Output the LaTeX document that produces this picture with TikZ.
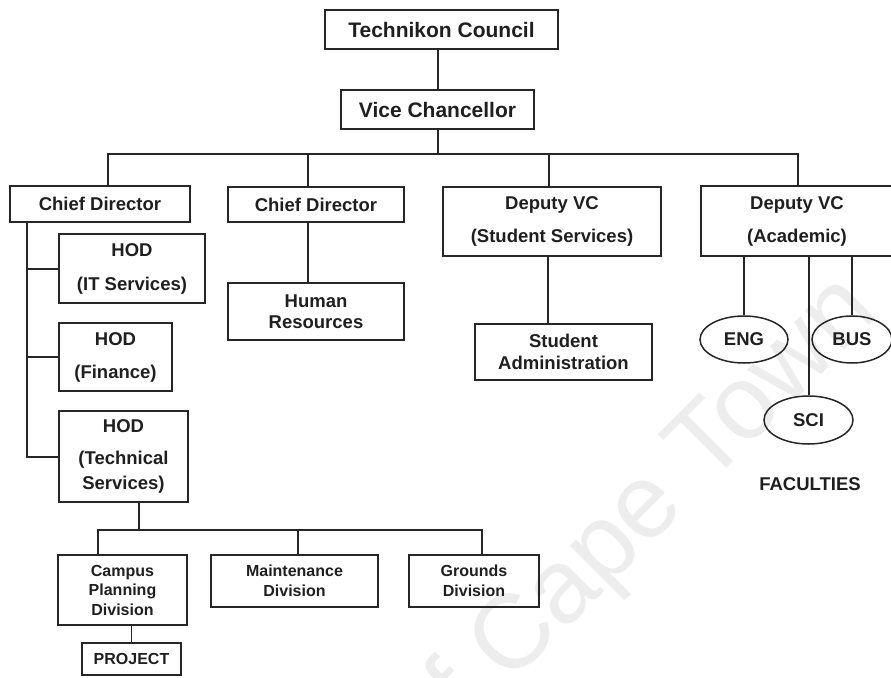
\documentclass[tikz,border=0pt]{standalone}
\usepackage{fontspec}
\setmainfont{Liberation Sans}
\usetikzlibrary{shapes.geometric}
\begin{document}
\begin{tikzpicture}[x=1pt,y=-1pt,
  box/.style={draw=black!85, line width=1.8pt, rectangle, inner sep=0pt,
    align=center, text=black!88, font=\bfseries\fontsize{18.5}{21}\selectfont},
  topbox/.style={box, font=\bfseries\fontsize{21}{25}\selectfont},
  smallbox/.style={box, line width=1.4pt, font=\bfseries\fontsize{16}{19.5}\selectfont},
  fac/.style={draw=black!85, line width=1.5pt, ellipse, inner sep=0pt,
    text=black!88, font=\bfseries\fontsize{18.5}{21}\selectfont},
  facname/.style={text=black!88, font=\bfseries\fontsize{18.5}{21}\selectfont},
  link/.style={draw=black!85, line width=2pt},
  thinlink/.style={draw=black!85, line width=1.5pt},
  stamp/.style={text=black!7, font=\fontsize{105}{105}\selectfont}]
\useasboundingbox (0,0) rectangle (891,677);

% faint watermark behind the chart
\node[stamp, rotate=45] (wm) at (635,522) {of Cape Town};

% governance
\node[topbox, minimum width=233pt, minimum height=39pt] (council) at (441.5,29.5) {Technikon Council};
\node[topbox, minimum width=193pt, minimum height=39pt] (vc) at (437.5,109.5) {Vice Chancellor};

% second level
\node[box, minimum width=180pt, minimum height=36pt] (cdA) at (100,204) {Chief Director};
\node[box, minimum width=176pt, minimum height=35pt] (cdB) at (316,204.5) {Chief Director};
\node[box, minimum width=218pt, minimum height=69pt] (dvcS) at (552,221.5) {Deputy VC\\[12pt](Student Services)};
\node[box, minimum width=192pt, minimum height=70pt] (dvcA) at (797,221) {Deputy VC\\[12pt](Academic)};

% heads of department
\node[box, minimum width=146pt, minimum height=69pt] (hodIT) at (132,268.5) {HOD\\[13pt](IT Services)};
\node[box, minimum width=113pt, minimum height=68pt] (hodFin) at (115.5,357) {HOD\\[12pt](Finance)};
\node[box, minimum width=129pt, minimum height=91pt] (hodTech) at (123.5,456.5) {HOD\\[11pt](Technical\\[4pt]Services)};
\node[box, minimum width=176pt, minimum height=57pt] (hr) at (316,311.5) {Human\\Resources};
\node[box, minimum width=177pt, minimum height=56pt] (sa) at (563.5,352) {Student\\[1pt]Administration};

% faculties
\node[fac, minimum width=88pt, minimum height=47pt] (eng) at (744,339.5) {ENG};
\node[fac, minimum width=80pt, minimum height=47pt] (bus) at (852,339.5) {BUS};
\node[fac, minimum width=89pt, minimum height=48pt] (sci) at (808.5,420) {SCI};
\node[facname] (faculties) at (810,484) {FACULTIES};

% technical services divisions
\node[smallbox, minimum width=129pt, minimum height=70pt] (campus) at (122.5,590) {Campus\\Planning\\Division};
\node[smallbox, minimum width=167pt, minimum height=52pt] (maint) at (294.5,581) {Maintenance\\Division};
\node[smallbox, minimum width=130pt, minimum height=52pt] (grounds) at (474,581) {Grounds\\Division};
\node[smallbox, minimum width=99pt, minimum height=32pt] (project) at (131.5,659) {PROJECT};

% junction points
\coordinate (dA) at (108,154);
\coordinate (dB) at (308,154);
\coordinate (dS) at (549,154);
\coordinate (dAc) at (798,154);
\coordinate (spine) at (27,0);
\coordinate (sx) at (548,0);
\coordinate (tx) at (139,530);
\coordinate (c1) at (98,530);
\coordinate (c2) at (298,530);
\coordinate (c3) at (482,530);

% top connectors
\draw[link] (council.south -| vc.north) -- (vc.north);
\draw[link] (vc.south) -- (vc.south |- dA);
\draw[link] (dA |- cdA.north) -- (dA) -- (dAc) -- (dAc |- dvcA.north);
\draw[link] (dB) -- (dB |- cdB.north);
\draw[link] (dS) -- (dS |- dvcS.north);

% chief director (left) to heads of department
\draw[link] (spine |- cdA.south) |- (hodTech.west);
\draw[link] (spine |- hodIT.west) -- (hodIT.west);
\draw[link] (spine |- hodFin.west) -- (hodFin.west);

% single reports
\draw[link] (dB |- cdB.south) -- (dB |- hr.north);
\draw[link] (sx |- dvcS.south) -- (sx |- sa.north);

% academic faculties
\draw[link] (eng.north) -- (eng.north |- dvcA.south);
\draw[link] (sci.north) -- (sci.north |- dvcA.south);
\draw[link] (bus.north) -- (bus.north |- dvcA.south);

% technical services tree
\draw[thinlink] (tx |- hodTech.south) -- (tx);
\draw[thinlink] (c1 |- campus.north) -- (c1) -- (c3) -- (c3 |- grounds.north);
\draw[thinlink] (c2) -- (c2 |- maint.north);
\draw[thinlink] (project.north) -- (project.north |- campus.south);
\end{tikzpicture}
\end{document}
